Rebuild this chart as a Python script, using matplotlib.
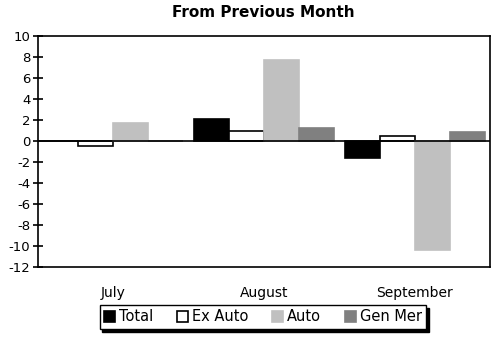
import matplotlib
matplotlib.use("Agg")
import matplotlib.pyplot as plt
import numpy as np

plt.rcParams['font.family'] = ['DejaVu Sans']
plt.rcParams['axes.unicode_minus'] = False

# monthly change by series
months = ["July", "August", "September"]
series = ["Total", "Ex Auto", "Auto", "Gen Mer"]
total = [0.0, 2.1, -1.6]
ex_auto = [-0.5, 1.0, 0.45]
auto = [1.7, 7.7, -10.4]
gen_mer = [0.0, 1.25, 0.85]

values = [total, ex_auto, auto, gen_mer]
faces = ["black", "white", "#c0c0c0", "#808080"]
edges = ["black", "black", "#c0c0c0", "#808080"]

fig = plt.figure(figsize=(4.99, 3.40), dpi=100)
ax = fig.add_axes([0.0762, 0.2147, 0.9058, 0.6793])

x = np.arange(len(months)) + 0.5
w = 0.2323
for i, (vals, fc, ec, name) in enumerate(zip(values, faces, edges, series)):
    ax.bar(x + (i - 1.5) * w, vals, width=w, color=fc, edgecolor=ec,
           linewidth=1.2, label=name, zorder=2)

ax.axhline(0, color="black", linewidth=1.2, zorder=3)

ax.set_xlim(0, 3)
ax.set_ylim(-12, 10)
ax.set_yticks(range(-12, 11, 2))
ax.set_xticks(x)
ax.set_xticklabels(months, fontsize=10)
ax.tick_params(axis="x", length=0, pad=14)
ax.tick_params(axis="y", direction="inout", length=7, width=1.2, labelsize=9.5, pad=2)
for s in ax.spines.values():
    s.set_linewidth(1.2)

fig.suptitle("From Previous Month", x=0.527, y=0.985, fontsize=11,
             fontweight="bold")

leg = fig.legend(loc="center", bbox_to_anchor=(0.527, 0.068), ncol=4,
                 fontsize=10.5, frameon=True, fancybox=False,
                 shadow={"color": "black", "alpha": 1.0},
                 edgecolor="black", handlelength=0.75, handleheight=0.75,
                 handletextpad=0.3, columnspacing=1.6, borderpad=0.3,
                 borderaxespad=0)
leg.get_frame().set_linewidth(1.0)

fig.savefig("out.png", dpi=100)
